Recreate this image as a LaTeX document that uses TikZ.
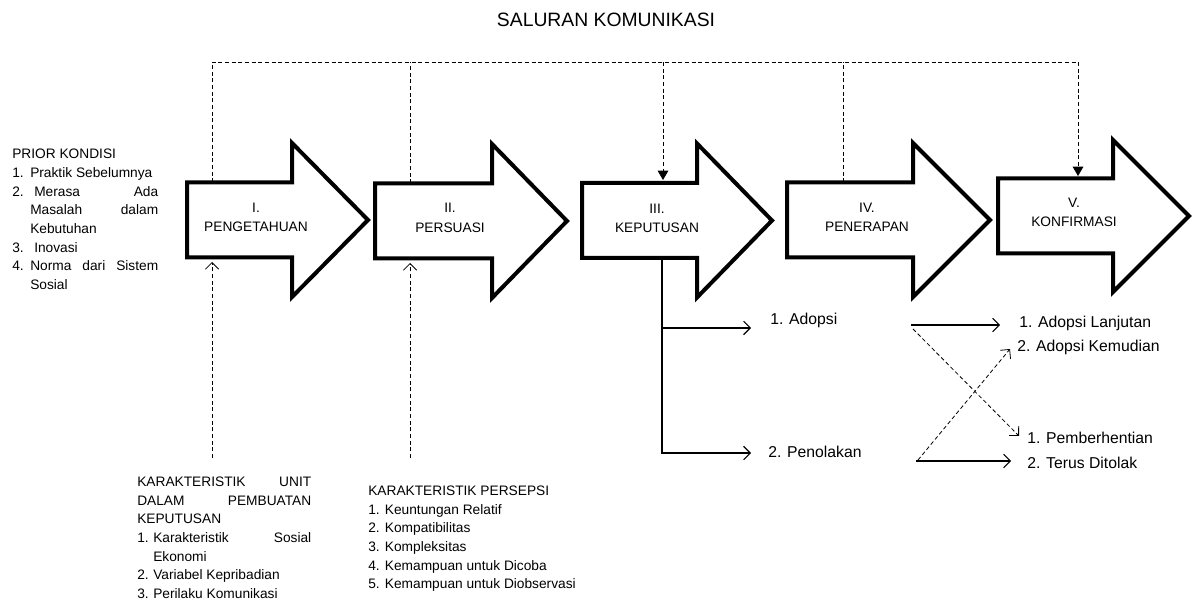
\documentclass[tikz,border=0pt]{standalone}
\usepackage{fontspec}
\setmainfont{Liberation Sans}
\usetikzlibrary{arrows.meta}

\begin{document}
\begin{tikzpicture}[x=0.75pt,y=-0.75pt,
  stage/.style={draw,line width=3pt,fill=white},
  stagetext/.style={align=center,inner sep=0pt,font=\fontsize{10.3}{14.5}\selectfont},
  listtext/.style={align=left,inner sep=0pt,anchor=north west,font=\fontsize{10.3}{14}\selectfont},
  result/.style={anchor=base west,inner sep=0pt,font=\fontsize{11.8}{14}\selectfont},
  flow/.style={dash pattern=on 3pt off 2pt,line width=0.6pt},
  decide/.style={line width=0.8pt,-{Straight Barb[length=5pt,width=10pt]}},
  barb/.style={-{Straight Barb[length=5pt,width=10pt]}},
  fall/.style={-{Triangle[length=7pt,width=8pt]}}]

\useasboundingbox (0,0) rectangle (1196,602);

\node[font=\fontsize{14.5}{17}\selectfont,anchor=base] (title) at (606,27) {SALURAN KOMUNIKASI};

% the five stages
\draw[stage] (187,182.5) -- (292,182.5) -- (292,143) -- (368,220) -- (292,297) -- (292,257.5) -- (187,257.5) -- cycle;
\draw[stage] (375,183.5) -- (492,183.5) -- (492,144) -- (567,221) -- (492,298) -- (492,258.5) -- (375,258.5) -- cycle;
\draw[stage] (582,183) -- (697,183) -- (697,143.5) -- (772,220.5) -- (697,297.5) -- (697,258) -- (582,258) -- cycle;
\draw[stage] (787,182.5) -- (913,182.5) -- (913,143) -- (990,220) -- (913,297) -- (913,257.5) -- (787,257.5) -- cycle;
\draw[stage] (998,178.5) -- (1113,178.5) -- (1113,140) -- (1189,216) -- (1113,292) -- (1113,253.5) -- (998,253.5) -- cycle;

\node[stagetext] (peng) at (256,217.5) {I.\\PENGETAHUAN};
\node[stagetext] (pers) at (450,218) {II.\\PERSUASI};
\node[stagetext] (kep) at (657,218.5) {III.\\KEPUTUSAN};
\node[stagetext] (pen) at (867,217) {IV.\\PENERAPAN};
\node[stagetext] (konf) at (1074,212.5) {V.\\KONFIRMASI};

\coordinate (pengTop) at (212,182.5);
\coordinate (persTop) at (410,183.5);
\coordinate (kepTop) at (663,180);
\coordinate (penTop) at (843,182.5);
\coordinate (konfTop) at (1078,176);
\coordinate (barL) at (212,62);
\coordinate (barR) at (1078,62);

% saluran komunikasi
\draw[flow] (pengTop) -- (barL) -- (barR);
\draw[flow] (persTop) -- (persTop |- barL);
\draw[flow] (penTop) -- (penTop |- barL);
\draw[flow,fall] (kepTop |- barL) -- (kepTop);
\draw[flow,fall] (barR) -- (konfTop);

% prior kondisi
\node[listtext] (prior) at (12,149) {PRIOR KONDISI\\
\makebox[13.5pt][l]{1.}Praktik Sebelumnya\\
\makebox[13.5pt][l]{2.}\hbox to 96pt{\hspace{3pt}Merasa\hfill Ada}\\
\hspace{13.5pt}\hbox to 96pt{Masalah\hfill dalam}\\
\hspace{13.5pt}Kebutuhan\\
\makebox[13.5pt][l]{3.}\hspace{3pt}Inovasi\\
\makebox[13.5pt][l]{4.}\hbox to 96pt{Norma\hfill dari\hfill Sistem}\\
\hspace{13.5pt}Sosial};

% karakteristik
\node[listtext] (unit) at (137,476.5) {\hbox to 130.5pt{KARAKTERISTIK\hfill UNIT}\\
\hbox to 130.5pt{DALAM\hfill PEMBUATAN}\\
KEPUTUSAN\\
\makebox[12pt][l]{1.}\hbox to 118.5pt{Karakteristik\hfill Sosial}\\
\hspace{12pt}Ekonomi\\
\makebox[12pt][l]{2.}Variabel Kepribadian\\
\makebox[12pt][l]{3.}Perilaku Komunikasi};

\node[listtext] (persepsi) at (368,485.5) {KARAKTERISTIK PERSEPSI\\
\makebox[12.5pt][l]{1.}Keuntungan Relatif\\
\makebox[12.5pt][l]{2.}Kompatibilitas\\
\makebox[12.5pt][l]{3.}Kompleksitas\\
\makebox[12.5pt][l]{4.}Kemampuan untuk Dicoba\\
\makebox[12.5pt][l]{5.}Kemampuan untuk Diobservasi};

\coordinate (unitOut) at (212,458);
\coordinate (pengIn) at (212,262);
\coordinate (persepsiOut) at (410,458);
\coordinate (persIn) at (410,263);
\draw[flow,barb] (unitOut) -- (pengIn);
\draw[flow,barb] (persepsiOut) -- (persIn);

% keputusan
\node[result] (adopsi) at (770,325) {1. Adopsi};
\node[result] (tolak) at (768,457) {2. Penolakan};
\coordinate (kepBot) at (662,259.5);
\coordinate (adopsiIn) at (751,328);
\coordinate (tolakIn) at (751,453);
\draw[decide] (kepBot) |- (adopsiIn);
\draw[decide] (kepBot) |- (tolakIn);

% konfirmasi
\node[result] (lanjut) at (1019,328) {1. Adopsi Lanjutan};
\node[result] (kemudian) at (1017,352) {2. Adopsi Kemudian};
\node[result] (berhenti) at (1027,443) {1. Pemberhentian};
\node[result] (ditolak) at (1027,468) {2. Terus Ditolak};
\coordinate (adopsiOut) at (911,325);
\coordinate (lanjutIn) at (1000,325);
\coordinate (adopsiOut2) at (913,329);
\coordinate (berhentiIn) at (1019,436);
\coordinate (tolakOut) at (918,460);
\coordinate (kemudianIn) at (1010,349);
\coordinate (tolakOut2) at (916,461);
\coordinate (ditolakIn) at (1011,461);
\draw[decide] (adopsiOut) -- (lanjutIn);
\draw[flow,barb] (adopsiOut2) -- (berhentiIn);
\draw[flow,barb] (tolakOut) -- (kemudianIn);
\draw[decide] (tolakOut2) -- (ditolakIn);

\end{tikzpicture}
\end{document}
